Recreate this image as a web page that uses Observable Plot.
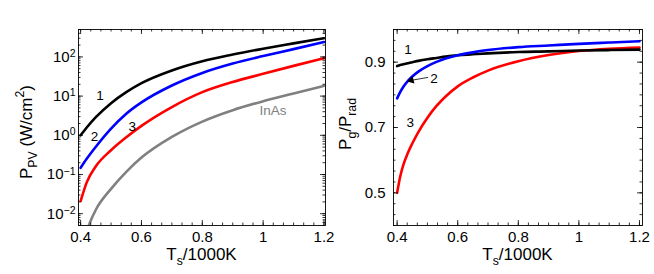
<!DOCTYPE html>
<html><head><meta charset="utf-8">
<script src="https://cdn.jsdelivr.net/npm/d3@7"></script>
<script src="https://cdn.jsdelivr.net/npm/@observablehq/plot@0.6"></script>
<style>
body{margin:0;background:#fff;}
#wrap{display:flex;width:654px;height:274px;overflow:hidden;background:#fff;}
#wrap svg{overflow:visible;}
svg text{white-space:pre;}
</style></head><body><div id="wrap"></div>
<script>
// ---------- data ----------
// Left panel: P_PV (W/cm^2) vs Ts/1000K
const ppvX     = [0.40, 0.42, 0.45, 0.50, 0.55, 0.60, 0.70, 0.80, 0.90, 1.00, 1.10, 1.20];
const ppv1     = [1.0, 1.58, 2.9, 6.6, 12.6, 21.4, 45.2, 77.6, 115, 162, 221, 300];
const ppv2     = [0.148, 0.251, 0.51, 1.48, 3.55, 6.9, 18.6, 38.9, 67.6, 105, 158, 240];
const ppv3     = [0.021, 0.063, 0.162, 0.417, 0.89, 1.74, 5.25, 12.6, 22.9, 37, 59, 93];
const ppvInAsX = [0.42, 0.43, 0.45, 0.50, 0.55, 0.60, 0.70, 0.80, 0.90, 1.00, 1.10, 1.20];
const ppvInAs  = [0.0035, 0.0058, 0.0126, 0.043, 0.117, 0.27, 0.91, 2.24, 4.37, 7.4, 11.7, 18.3];

// Right panel: Pg/Prad vs Ts/1000K
const ratioX = [0.40, 0.41, 0.42, 0.435, 0.45, 0.47, 0.50, 0.53, 0.56, 0.60, 0.65, 0.70, 0.80, 0.90, 1.00, 1.10, 1.20];
const ratio1 = [0.888, 0.891, 0.8935, 0.897, 0.900, 0.904, 0.909, 0.913, 0.917, 0.921, 0.924, 0.927, 0.931, 0.933, 0.9355, 0.937, 0.9385];
const ratio2 = [0.789, 0.808, 0.824, 0.842, 0.856, 0.871, 0.888, 0.901, 0.911, 0.921, 0.930, 0.937, 0.946, 0.951, 0.956, 0.960, 0.964];
const ratio3 = [0.500, 0.549, 0.584, 0.621, 0.651, 0.686, 0.730, 0.766, 0.795, 0.826, 0.853, 0.874, 0.903, 0.922, 0.934, 0.941, 0.945];

// curve labels
const leftLabText = ["1", "2", "3", "InAs"];
const leftLabX    = [0.4635, 0.446, 0.570, 1.032];
const leftLabY    = [10.2, 0.92, 1.66, 4.2];
const rightLabText = ["1", "2", "3"];
const rightLabX    = [0.436, 0.522, 0.443];
const rightLabY    = [0.9385, 0.851, 0.714];
const arrowFrom = [0.5025, 0.8535];
const arrowTo   = [0.447, 0.8445];

// ticks
const xMajor = [0.4, 0.6, 0.8, 1.0, 1.2];
const xMinor = d3.range(0, 25).map(k => 0.4 + k * 0.2 / 6).filter(v => v <= 1.2001);
const yLogMajor = [0.01, 0.1, 1, 10, 100];
const yLogMinor = d3.range(-3, 3).flatMap(n => d3.range(1, 10).map(k => k * Math.pow(10, n))).filter(v => v >= 0.005 && v <= 500);
const yLinMajor = [0.5, 0.7, 0.9];
const yLinMinor = d3.range(-3, 16).map(k => 0.5 + k * 0.2 / 6);

const colors = {c1: "#000000", c2: "#0000ff", c3: "#ff0000", inas: "#808080"};
const FONT = "'Liberation Sans', Arial, Helvetica, sans-serif";
const TICKFS = 15;

function rows(xs, ys) { return xs.map((x, i) => ({x, y: ys[i]})); }
function labRows(t, xs, ys) { return t.map((s, i) => ({text: s, x: xs[i], y: ys[i]})); }

function frameTicks(plotW, plotH, xs, ys, len) {
  const st = {stroke: "black", strokeWidth: 0.8};
  return [
    Plot.tickX(xs, {x: d => d, insetTop: plotH - len, ...st}),
    Plot.tickX(xs, {x: d => d, insetBottom: plotH - len, ...st}),
    Plot.tickY(ys, {y: d => d, insetRight: plotW - len, ...st}),
    Plot.tickY(ys, {y: d => d, insetLeft: plotW - len, ...st})
  ];
}

function richText(svg, x, y, rotate, size, parts) {
  const t = d3.select(svg).append("text")
    .attr("transform", `translate(${x},${y}) rotate(${rotate})`)
    .attr("text-anchor", "middle").attr("font-size", size)
    .attr("font-family", FONT).attr("fill", "black");
  let shift = 0;
  for (const [s, kind] of parts) {
    const target = kind === "sub" ? size * 0.32 : kind === "sup" ? -size * 0.45 : 0;
    const ts = t.append("tspan").attr("dy", target - shift).text(s);
    if (kind !== "base") ts.attr("font-size", size * 0.72);
    shift = target;
  }
}

const lineOpts = (stroke) => ({x: "x", y: "y", stroke, strokeWidth: 2.6, curve: "monotone-x", clip: true});

const H = 274;
// ---------- left ----------
const L = {w: 327, ml: 78, mr: 2, mt: 29, mb: 49};
const LpW = L.w - L.ml - L.mr, pH = H - L.mt - L.mb;
const left = Plot.plot({
  width: L.w, height: H,
  marginLeft: L.ml, marginRight: L.mr, marginTop: L.mt, marginBottom: L.mb,
  style: {fontFamily: FONT, fontSize: TICKFS + "px", background: "transparent", color: "black", overflow: "visible"},
  x: {domain: [0.393, 1.205]},
  y: {type: "log", domain: [0.005, 500]},
  marks: [
    Plot.line(rows(ppvInAsX, ppvInAs), lineOpts(colors.inas)),
    Plot.line(rows(ppvX, ppv3), lineOpts(colors.c3)),
    Plot.line(rows(ppvX, ppv2), lineOpts(colors.c2)),
    Plot.line(rows(ppvX, ppv1), lineOpts(colors.c1)),
    ...frameTicks(LpW, pH, xMinor, yLogMinor, 2.5),
    ...frameTicks(LpW, pH, xMajor, yLogMajor, 5),
    Plot.frame({stroke: "black", strokeWidth: 0.9}),
    Plot.axisX(xMajor, {tickSize: 0, tickPadding: 6, tickFormat: d => String(+d.toFixed(1)), label: null, fontSize: TICKFS}),
    Plot.axisY(yLogMajor, {tickSize: 0, tickPadding: 3, tickFormat: d => "10^" + Math.round(Math.log10(d)), label: null, fontSize: TICKFS}),
    Plot.text(labRows(leftLabText, leftLabX, leftLabY), {x: "x", y: "y", text: "text", fontSize: 13.5,
      fill: (d) => d.text === "InAs" ? colors.inas : "black"})
  ]
});
// ---------- right ----------
const R = {w: 327, ml: 66, mr: 12, mt: 29, mb: 49};
const RpW = R.w - R.ml - R.mr;
const right = Plot.plot({
  width: R.w, height: H,
  marginLeft: R.ml, marginRight: R.mr, marginTop: R.mt, marginBottom: R.mb,
  style: {fontFamily: FONT, fontSize: TICKFS + "px", background: "transparent", color: "black", overflow: "visible"},
  x: {domain: [0.388, 1.21]},
  y: {domain: [0.4, 1.0]},
  marks: [
    Plot.line(rows(ratioX, ratio3), lineOpts(colors.c3)),
    Plot.line(rows(ratioX, ratio1), lineOpts(colors.c1)),
    Plot.line(rows(ratioX, ratio2), lineOpts(colors.c2)),
    ...frameTicks(RpW, pH, xMinor, yLinMinor, 2.5),
    ...frameTicks(RpW, pH, xMajor, yLinMajor, 5),
    Plot.frame({stroke: "black", strokeWidth: 0.9}),
    Plot.axisX(xMajor, {tickSize: 0, tickPadding: 6, tickFormat: d => String(+d.toFixed(1)), label: null, fontSize: TICKFS}),
    Plot.axisY(yLinMajor, {tickSize: 0, tickPadding: 8, tickFormat: d => d.toFixed(1), label: null, fontSize: TICKFS}),
    Plot.link([{x1: arrowFrom[0], y1: arrowFrom[1], x2: arrowTo[0], y2: arrowTo[1]}], {x1: "x1", y1: "y1", x2: "x2", y2: "y2", stroke: "black", strokeWidth: 0.8}),
    Plot.dot([{x: arrowTo[0], y: arrowTo[1]}], {x: "x", y: "y", symbol: "triangle", r: 2.8, fill: "black", rotate: 255}),
    Plot.text(labRows(rightLabText, rightLabX, rightLabY), {x: "x", y: "y", text: "text", fontSize: 13.5, fill: "black"})
  ]
});

const wrap = document.getElementById("wrap");
wrap.appendChild(left);
wrap.appendChild(right);
left.style.position = "relative";
left.style.zIndex = "2";

// superscript exponents in log tick labels
d3.select(left).selectAll("text").each(function() {
  const s = this.textContent;
  if (s.startsWith("10^")) {
    const e = s.slice(3).replace("-", "\u2212");
    const sel = d3.select(this);
    sel.text(null);
    sel.append("tspan").text("10");
    sel.append("tspan").attr("dy", "-0.45em").attr("font-size", "10.5px").text(e);
  }
});

// axis titles
richText(left, 32, 132, -90, 17, [["P", "base"], ["PV", "sub"], [" (W/cm", "base"], ["2", "sup"], [")", "base"]]);
richText(left, L.ml + LpW / 2, 260, 0, 17, [["T", "base"], ["s", "sub"], ["/1000K", "base"]]);
richText(right, 24, 124, -90, 17, [["P", "base"], ["g", "sub"], ["/P", "base"], ["rad", "sub"]]);
richText(right, R.ml + RpW / 2, 260, 0, 17, [["T", "base"], ["s", "sub"], ["/1000K", "base"]]);
</script></body></html>
